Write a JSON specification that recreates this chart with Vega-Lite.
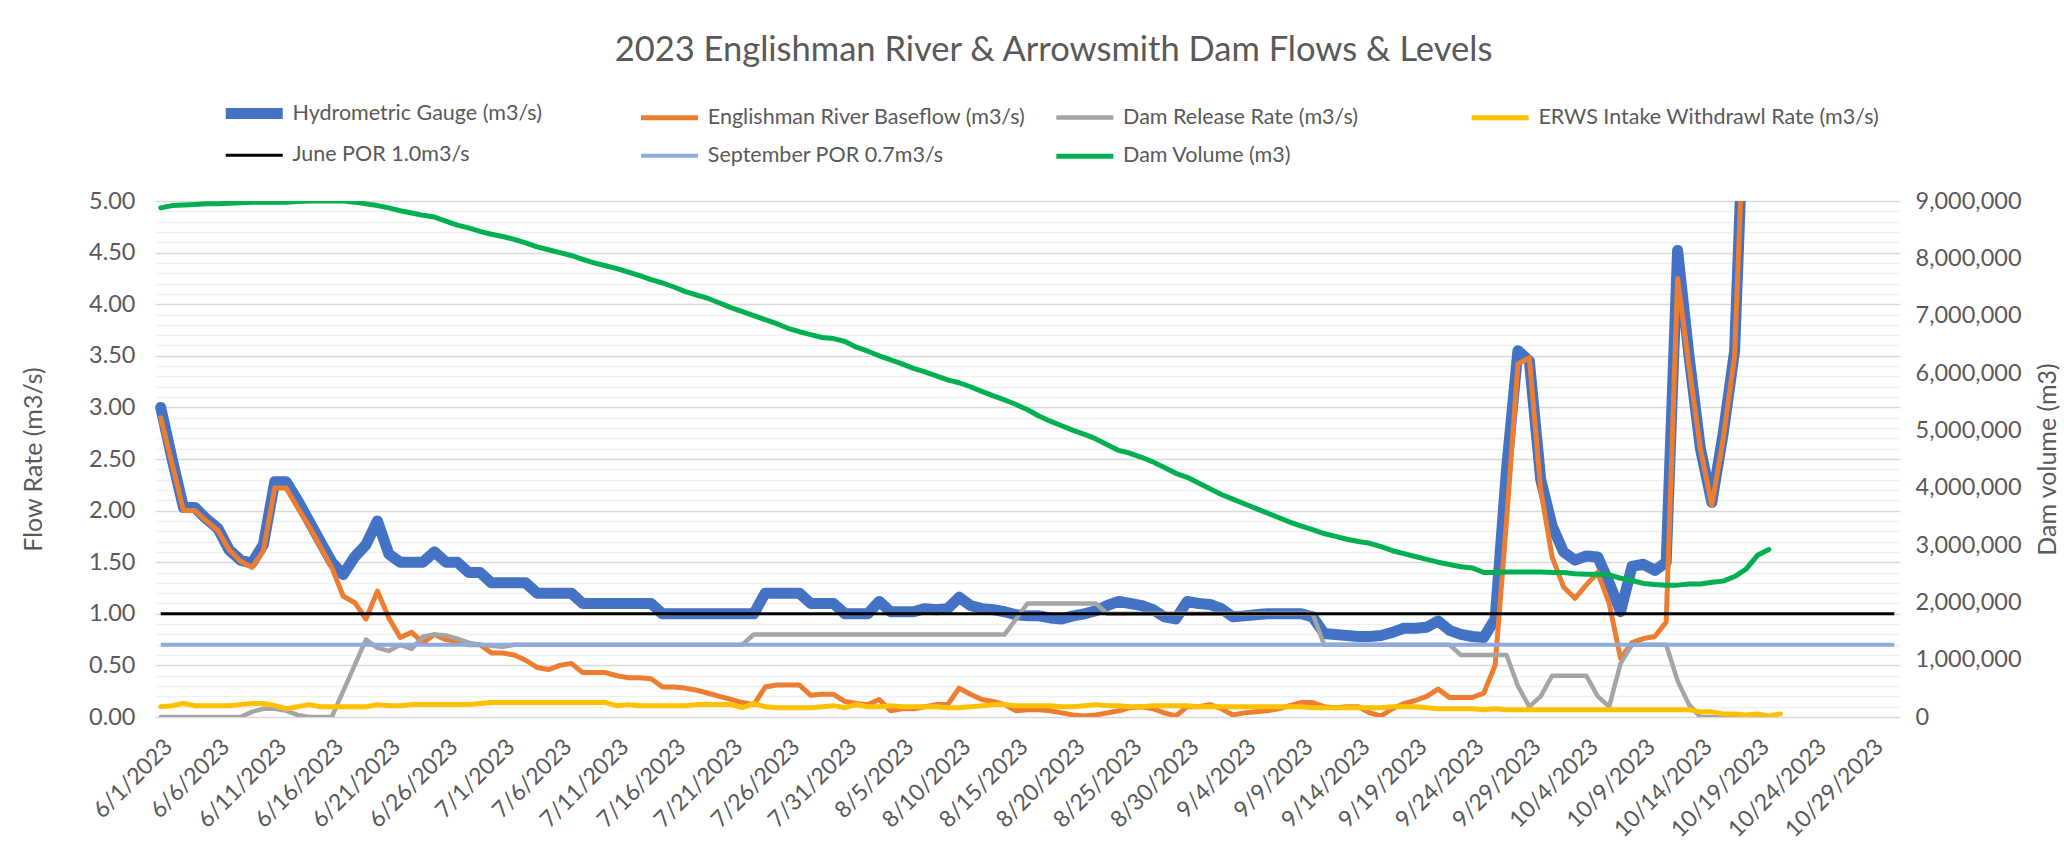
{
"$schema": "https://vega.github.io/schema/vega-lite/v6.json",
"width": 1745, "height": 516,
"autosize": "none",
"padding": {"left": 155, "top": 201, "right": 164, "bottom": 136},
"background": "#ffffff",
"config": {"font": "Lato", "view": {"stroke": null}},
"title": {"text": "2023 Englishman River & Arrowsmith Dam Flows & Levels", "font": "Lato", "fontSize": 34.5, "fontWeight": "normal", "color": "#595959", "anchor": "middle", "dx": 26, "offset": 25},
"data": {"values": [
{"d":"2023-06-01","s":"H","v":3.0},{"d":"2023-06-02","s":"H","v":2.5},{"d":"2023-06-03","s":"H","v":2.03},{"d":"2023-06-04","s":"H","v":2.03},{"d":"2023-06-05","s":"H","v":1.92},{"d":"2023-06-06","s":"H","v":1.83},{"d":"2023-06-07","s":"H","v":1.62},{"d":"2023-06-08","s":"H","v":1.52},{"d":"2023-06-09","s":"H","v":1.49},{"d":"2023-06-10","s":"H","v":1.67},{"d":"2023-06-11","s":"H","v":2.28},{"d":"2023-06-12","s":"H","v":2.28},{"d":"2023-06-13","s":"H","v":2.1},{"d":"2023-06-14","s":"H","v":1.9},{"d":"2023-06-15","s":"H","v":1.7},{"d":"2023-06-16","s":"H","v":1.5},{"d":"2023-06-17","s":"H","v":1.38},{"d":"2023-06-18","s":"H","v":1.55},{"d":"2023-06-19","s":"H","v":1.67},{"d":"2023-06-20","s":"H","v":1.9},{"d":"2023-06-21","s":"H","v":1.58},{"d":"2023-06-22","s":"H","v":1.5},{"d":"2023-06-23","s":"H","v":1.5},{"d":"2023-06-24","s":"H","v":1.5},{"d":"2023-06-25","s":"H","v":1.6},{"d":"2023-06-26","s":"H","v":1.5},{"d":"2023-06-27","s":"H","v":1.5},{"d":"2023-06-28","s":"H","v":1.4},{"d":"2023-06-29","s":"H","v":1.4},{"d":"2023-06-30","s":"H","v":1.3},
{"d":"2023-07-01","s":"H","v":1.3},{"d":"2023-07-02","s":"H","v":1.3},{"d":"2023-07-03","s":"H","v":1.3},{"d":"2023-07-04","s":"H","v":1.2},{"d":"2023-07-05","s":"H","v":1.2},{"d":"2023-07-06","s":"H","v":1.2},{"d":"2023-07-07","s":"H","v":1.2},{"d":"2023-07-08","s":"H","v":1.1},{"d":"2023-07-09","s":"H","v":1.1},{"d":"2023-07-10","s":"H","v":1.1},{"d":"2023-07-11","s":"H","v":1.1},{"d":"2023-07-12","s":"H","v":1.1},{"d":"2023-07-13","s":"H","v":1.1},{"d":"2023-07-14","s":"H","v":1.1},{"d":"2023-07-15","s":"H","v":1.0},{"d":"2023-07-16","s":"H","v":1.0},{"d":"2023-07-17","s":"H","v":1.0},{"d":"2023-07-18","s":"H","v":1.0},{"d":"2023-07-19","s":"H","v":1.0},{"d":"2023-07-20","s":"H","v":1.0},{"d":"2023-07-21","s":"H","v":1.0},{"d":"2023-07-22","s":"H","v":1.0},{"d":"2023-07-23","s":"H","v":1.0},{"d":"2023-07-24","s":"H","v":1.2},{"d":"2023-07-25","s":"H","v":1.2},{"d":"2023-07-26","s":"H","v":1.2},{"d":"2023-07-27","s":"H","v":1.2},{"d":"2023-07-28","s":"H","v":1.1},{"d":"2023-07-29","s":"H","v":1.1},{"d":"2023-07-30","s":"H","v":1.1},{"d":"2023-07-31","s":"H","v":1.0},
{"d":"2023-08-01","s":"H","v":1.0},{"d":"2023-08-02","s":"H","v":1.0},{"d":"2023-08-03","s":"H","v":1.12},{"d":"2023-08-04","s":"H","v":1.02},{"d":"2023-08-05","s":"H","v":1.02},{"d":"2023-08-06","s":"H","v":1.02},{"d":"2023-08-07","s":"H","v":1.05},{"d":"2023-08-08","s":"H","v":1.04},{"d":"2023-08-09","s":"H","v":1.05},{"d":"2023-08-10","s":"H","v":1.16},{"d":"2023-08-11","s":"H","v":1.08},{"d":"2023-08-12","s":"H","v":1.05},{"d":"2023-08-13","s":"H","v":1.04},{"d":"2023-08-14","s":"H","v":1.02},{"d":"2023-08-15","s":"H","v":0.99},{"d":"2023-08-16","s":"H","v":0.98},{"d":"2023-08-17","s":"H","v":0.98},{"d":"2023-08-18","s":"H","v":0.96},{"d":"2023-08-19","s":"H","v":0.95},{"d":"2023-08-20","s":"H","v":0.98},{"d":"2023-08-21","s":"H","v":1.0},{"d":"2023-08-22","s":"H","v":1.03},{"d":"2023-08-23","s":"H","v":1.08},{"d":"2023-08-24","s":"H","v":1.12},{"d":"2023-08-25","s":"H","v":1.1},{"d":"2023-08-26","s":"H","v":1.08},{"d":"2023-08-27","s":"H","v":1.04},{"d":"2023-08-28","s":"H","v":0.97},{"d":"2023-08-29","s":"H","v":0.95},{"d":"2023-08-30","s":"H","v":1.12},{"d":"2023-08-31","s":"H","v":1.1},
{"d":"2023-09-01","s":"H","v":1.09},{"d":"2023-09-02","s":"H","v":1.05},{"d":"2023-09-03","s":"H","v":0.97},{"d":"2023-09-04","s":"H","v":0.98},{"d":"2023-09-05","s":"H","v":0.99},{"d":"2023-09-06","s":"H","v":1.0},{"d":"2023-09-07","s":"H","v":1.0},{"d":"2023-09-08","s":"H","v":1.0},{"d":"2023-09-09","s":"H","v":1.0},{"d":"2023-09-10","s":"H","v":0.97},{"d":"2023-09-11","s":"H","v":0.81},{"d":"2023-09-12","s":"H","v":0.8},{"d":"2023-09-13","s":"H","v":0.79},{"d":"2023-09-14","s":"H","v":0.78},{"d":"2023-09-15","s":"H","v":0.78},{"d":"2023-09-16","s":"H","v":0.79},{"d":"2023-09-17","s":"H","v":0.82},{"d":"2023-09-18","s":"H","v":0.86},{"d":"2023-09-19","s":"H","v":0.86},{"d":"2023-09-20","s":"H","v":0.87},{"d":"2023-09-21","s":"H","v":0.93},{"d":"2023-09-22","s":"H","v":0.84},{"d":"2023-09-23","s":"H","v":0.8},{"d":"2023-09-24","s":"H","v":0.78},{"d":"2023-09-25","s":"H","v":0.77},{"d":"2023-09-26","s":"H","v":0.95},{"d":"2023-09-27","s":"H","v":2.4},{"d":"2023-09-28","s":"H","v":3.55},{"d":"2023-09-29","s":"H","v":3.45},{"d":"2023-09-30","s":"H","v":2.3},
{"d":"2023-10-01","s":"H","v":1.85},{"d":"2023-10-02","s":"H","v":1.6},{"d":"2023-10-03","s":"H","v":1.52},{"d":"2023-10-04","s":"H","v":1.56},{"d":"2023-10-05","s":"H","v":1.55},{"d":"2023-10-06","s":"H","v":1.3},{"d":"2023-10-07","s":"H","v":1.02},{"d":"2023-10-08","s":"H","v":1.46},{"d":"2023-10-09","s":"H","v":1.48},{"d":"2023-10-10","s":"H","v":1.42},{"d":"2023-10-11","s":"H","v":1.5},{"d":"2023-10-12","s":"H","v":4.52},{"d":"2023-10-13","s":"H","v":3.5},{"d":"2023-10-14","s":"H","v":2.6},{"d":"2023-10-15","s":"H","v":2.08},{"d":"2023-10-16","s":"H","v":2.75},{"d":"2023-10-17","s":"H","v":3.55},{"d":"2023-10-18","s":"H","v":6.5},
{"d":"2023-06-01","s":"B","v":2.9},{"d":"2023-06-02","s":"B","v":2.45},{"d":"2023-06-03","s":"B","v":2.0},{"d":"2023-06-04","s":"B","v":2.0},{"d":"2023-06-05","s":"B","v":1.9},{"d":"2023-06-06","s":"B","v":1.81},{"d":"2023-06-07","s":"B","v":1.62},{"d":"2023-06-08","s":"B","v":1.51},{"d":"2023-06-09","s":"B","v":1.45},{"d":"2023-06-10","s":"B","v":1.61},{"d":"2023-06-11","s":"B","v":2.22},{"d":"2023-06-12","s":"B","v":2.22},{"d":"2023-06-13","s":"B","v":2.03},{"d":"2023-06-14","s":"B","v":1.85},{"d":"2023-06-15","s":"B","v":1.65},{"d":"2023-06-16","s":"B","v":1.45},{"d":"2023-06-17","s":"B","v":1.17},{"d":"2023-06-18","s":"B","v":1.11},{"d":"2023-06-19","s":"B","v":0.95},{"d":"2023-06-20","s":"B","v":1.22},{"d":"2023-06-21","s":"B","v":0.96},{"d":"2023-06-22","s":"B","v":0.77},{"d":"2023-06-23","s":"B","v":0.82},{"d":"2023-06-24","s":"B","v":0.72},{"d":"2023-06-25","s":"B","v":0.8},{"d":"2023-06-26","s":"B","v":0.75},{"d":"2023-06-27","s":"B","v":0.73},{"d":"2023-06-28","s":"B","v":0.7},{"d":"2023-06-29","s":"B","v":0.7},{"d":"2023-06-30","s":"B","v":0.62},
{"d":"2023-07-01","s":"B","v":0.62},{"d":"2023-07-02","s":"B","v":0.6},{"d":"2023-07-03","s":"B","v":0.55},{"d":"2023-07-04","s":"B","v":0.48},{"d":"2023-07-05","s":"B","v":0.46},{"d":"2023-07-06","s":"B","v":0.5},{"d":"2023-07-07","s":"B","v":0.52},{"d":"2023-07-08","s":"B","v":0.43},{"d":"2023-07-09","s":"B","v":0.43},{"d":"2023-07-10","s":"B","v":0.43},{"d":"2023-07-11","s":"B","v":0.4},{"d":"2023-07-12","s":"B","v":0.38},{"d":"2023-07-13","s":"B","v":0.38},{"d":"2023-07-14","s":"B","v":0.37},{"d":"2023-07-15","s":"B","v":0.29},{"d":"2023-07-16","s":"B","v":0.29},{"d":"2023-07-17","s":"B","v":0.28},{"d":"2023-07-18","s":"B","v":0.26},{"d":"2023-07-19","s":"B","v":0.23},{"d":"2023-07-20","s":"B","v":0.2},{"d":"2023-07-21","s":"B","v":0.17},{"d":"2023-07-22","s":"B","v":0.14},{"d":"2023-07-23","s":"B","v":0.12},{"d":"2023-07-24","s":"B","v":0.29},{"d":"2023-07-25","s":"B","v":0.31},{"d":"2023-07-26","s":"B","v":0.31},{"d":"2023-07-27","s":"B","v":0.31},{"d":"2023-07-28","s":"B","v":0.21},{"d":"2023-07-29","s":"B","v":0.22},{"d":"2023-07-30","s":"B","v":0.22},{"d":"2023-07-31","s":"B","v":0.15},
{"d":"2023-08-01","s":"B","v":0.13},{"d":"2023-08-02","s":"B","v":0.12},{"d":"2023-08-03","s":"B","v":0.17},{"d":"2023-08-04","s":"B","v":0.06},{"d":"2023-08-05","s":"B","v":0.08},{"d":"2023-08-06","s":"B","v":0.08},{"d":"2023-08-07","s":"B","v":0.1},{"d":"2023-08-08","s":"B","v":0.12},{"d":"2023-08-09","s":"B","v":0.12},{"d":"2023-08-10","s":"B","v":0.28},{"d":"2023-08-11","s":"B","v":0.22},{"d":"2023-08-12","s":"B","v":0.17},{"d":"2023-08-13","s":"B","v":0.15},{"d":"2023-08-14","s":"B","v":0.12},{"d":"2023-08-15","s":"B","v":0.06},{"d":"2023-08-16","s":"B","v":0.07},{"d":"2023-08-17","s":"B","v":0.07},{"d":"2023-08-18","s":"B","v":0.06},{"d":"2023-08-19","s":"B","v":0.04},{"d":"2023-08-20","s":"B","v":0.02},{"d":"2023-08-21","s":"B","v":0.01},{"d":"2023-08-22","s":"B","v":0.02},{"d":"2023-08-23","s":"B","v":0.04},{"d":"2023-08-24","s":"B","v":0.06},{"d":"2023-08-25","s":"B","v":0.09},{"d":"2023-08-26","s":"B","v":0.1},{"d":"2023-08-27","s":"B","v":0.08},{"d":"2023-08-28","s":"B","v":0.04},{"d":"2023-08-29","s":"B","v":0.01},{"d":"2023-08-30","s":"B","v":0.1},{"d":"2023-08-31","s":"B","v":0.1},
{"d":"2023-09-01","s":"B","v":0.12},{"d":"2023-09-02","s":"B","v":0.08},{"d":"2023-09-03","s":"B","v":0.02},{"d":"2023-09-04","s":"B","v":0.04},{"d":"2023-09-05","s":"B","v":0.05},{"d":"2023-09-06","s":"B","v":0.06},{"d":"2023-09-07","s":"B","v":0.08},{"d":"2023-09-08","s":"B","v":0.11},{"d":"2023-09-09","s":"B","v":0.14},{"d":"2023-09-10","s":"B","v":0.14},{"d":"2023-09-11","s":"B","v":0.1},{"d":"2023-09-12","s":"B","v":0.09},{"d":"2023-09-13","s":"B","v":0.1},{"d":"2023-09-14","s":"B","v":0.1},{"d":"2023-09-15","s":"B","v":0.04},{"d":"2023-09-16","s":"B","v":0.01},{"d":"2023-09-17","s":"B","v":0.08},{"d":"2023-09-18","s":"B","v":0.13},{"d":"2023-09-19","s":"B","v":0.16},{"d":"2023-09-20","s":"B","v":0.2},{"d":"2023-09-21","s":"B","v":0.27},{"d":"2023-09-22","s":"B","v":0.19},{"d":"2023-09-23","s":"B","v":0.19},{"d":"2023-09-24","s":"B","v":0.19},{"d":"2023-09-25","s":"B","v":0.23},{"d":"2023-09-26","s":"B","v":0.5},{"d":"2023-09-27","s":"B","v":1.9},{"d":"2023-09-28","s":"B","v":3.42},{"d":"2023-09-29","s":"B","v":3.48},{"d":"2023-09-30","s":"B","v":2.2},
{"d":"2023-10-01","s":"B","v":1.55},{"d":"2023-10-02","s":"B","v":1.26},{"d":"2023-10-03","s":"B","v":1.15},{"d":"2023-10-04","s":"B","v":1.28},{"d":"2023-10-05","s":"B","v":1.4},{"d":"2023-10-06","s":"B","v":1.1},{"d":"2023-10-07","s":"B","v":0.57},{"d":"2023-10-08","s":"B","v":0.72},{"d":"2023-10-09","s":"B","v":0.76},{"d":"2023-10-10","s":"B","v":0.78},{"d":"2023-10-11","s":"B","v":0.92},{"d":"2023-10-12","s":"B","v":4.25},{"d":"2023-10-13","s":"B","v":3.4},{"d":"2023-10-14","s":"B","v":2.6},{"d":"2023-10-15","s":"B","v":2.05},{"d":"2023-10-16","s":"B","v":2.7},{"d":"2023-10-17","s":"B","v":3.5},{"d":"2023-10-18","s":"B","v":6.4},
{"d":"2023-06-01","s":"R","v":0},{"d":"2023-06-02","s":"R","v":0},{"d":"2023-06-03","s":"R","v":0},{"d":"2023-06-04","s":"R","v":0},{"d":"2023-06-05","s":"R","v":0},{"d":"2023-06-06","s":"R","v":0},{"d":"2023-06-07","s":"R","v":0},{"d":"2023-06-08","s":"R","v":0},{"d":"2023-06-09","s":"R","v":0.05},{"d":"2023-06-10","s":"R","v":0.08},{"d":"2023-06-11","s":"R","v":0.08},{"d":"2023-06-12","s":"R","v":0.06},{"d":"2023-06-13","s":"R","v":0.02},{"d":"2023-06-14","s":"R","v":0},{"d":"2023-06-15","s":"R","v":0},{"d":"2023-06-16","s":"R","v":0},{"d":"2023-06-17","s":"R","v":0.25},{"d":"2023-06-18","s":"R","v":0.5},{"d":"2023-06-19","s":"R","v":0.75},{"d":"2023-06-20","s":"R","v":0.67},{"d":"2023-06-21","s":"R","v":0.64},{"d":"2023-06-22","s":"R","v":0.7},{"d":"2023-06-23","s":"R","v":0.66},{"d":"2023-06-24","s":"R","v":0.78},{"d":"2023-06-25","s":"R","v":0.8},{"d":"2023-06-26","s":"R","v":0.79},{"d":"2023-06-27","s":"R","v":0.76},{"d":"2023-06-28","s":"R","v":0.72},{"d":"2023-06-29","s":"R","v":0.7},{"d":"2023-06-30","s":"R","v":0.69},
{"d":"2023-07-01","s":"R","v":0.68},{"d":"2023-07-02","s":"R","v":0.7},{"d":"2023-07-03","s":"R","v":0.7},{"d":"2023-07-04","s":"R","v":0.7},{"d":"2023-07-05","s":"R","v":0.7},{"d":"2023-07-06","s":"R","v":0.7},{"d":"2023-07-07","s":"R","v":0.7},{"d":"2023-07-08","s":"R","v":0.7},{"d":"2023-07-09","s":"R","v":0.7},{"d":"2023-07-10","s":"R","v":0.7},{"d":"2023-07-11","s":"R","v":0.7},{"d":"2023-07-12","s":"R","v":0.7},{"d":"2023-07-13","s":"R","v":0.7},{"d":"2023-07-14","s":"R","v":0.7},{"d":"2023-07-15","s":"R","v":0.7},{"d":"2023-07-16","s":"R","v":0.7},{"d":"2023-07-17","s":"R","v":0.7},{"d":"2023-07-18","s":"R","v":0.7},{"d":"2023-07-19","s":"R","v":0.7},{"d":"2023-07-20","s":"R","v":0.7},{"d":"2023-07-21","s":"R","v":0.7},{"d":"2023-07-22","s":"R","v":0.7},{"d":"2023-07-23","s":"R","v":0.8},{"d":"2023-07-24","s":"R","v":0.8},{"d":"2023-07-25","s":"R","v":0.8},{"d":"2023-07-26","s":"R","v":0.8},{"d":"2023-07-27","s":"R","v":0.8},{"d":"2023-07-28","s":"R","v":0.8},{"d":"2023-07-29","s":"R","v":0.8},{"d":"2023-07-30","s":"R","v":0.8},{"d":"2023-07-31","s":"R","v":0.8},
{"d":"2023-08-01","s":"R","v":0.8},{"d":"2023-08-02","s":"R","v":0.8},{"d":"2023-08-03","s":"R","v":0.8},{"d":"2023-08-04","s":"R","v":0.8},{"d":"2023-08-05","s":"R","v":0.8},{"d":"2023-08-06","s":"R","v":0.8},{"d":"2023-08-07","s":"R","v":0.8},{"d":"2023-08-08","s":"R","v":0.8},{"d":"2023-08-09","s":"R","v":0.8},{"d":"2023-08-10","s":"R","v":0.8},{"d":"2023-08-11","s":"R","v":0.8},{"d":"2023-08-12","s":"R","v":0.8},{"d":"2023-08-13","s":"R","v":0.8},{"d":"2023-08-14","s":"R","v":0.8},{"d":"2023-08-15","s":"R","v":0.95},{"d":"2023-08-16","s":"R","v":1.1},{"d":"2023-08-17","s":"R","v":1.1},{"d":"2023-08-18","s":"R","v":1.1},{"d":"2023-08-19","s":"R","v":1.1},{"d":"2023-08-20","s":"R","v":1.1},{"d":"2023-08-21","s":"R","v":1.1},{"d":"2023-08-22","s":"R","v":1.1},{"d":"2023-08-23","s":"R","v":1.0},{"d":"2023-08-24","s":"R","v":1.0},{"d":"2023-08-25","s":"R","v":1.0},{"d":"2023-08-26","s":"R","v":1.0},{"d":"2023-08-27","s":"R","v":1.0},{"d":"2023-08-28","s":"R","v":1.0},{"d":"2023-08-29","s":"R","v":1.0},{"d":"2023-08-30","s":"R","v":1.0},{"d":"2023-08-31","s":"R","v":1.0},
{"d":"2023-09-01","s":"R","v":1.0},{"d":"2023-09-02","s":"R","v":1.0},{"d":"2023-09-03","s":"R","v":1.0},{"d":"2023-09-04","s":"R","v":1.0},{"d":"2023-09-05","s":"R","v":1.0},{"d":"2023-09-06","s":"R","v":1.0},{"d":"2023-09-07","s":"R","v":1.0},{"d":"2023-09-08","s":"R","v":1.0},{"d":"2023-09-09","s":"R","v":1.0},{"d":"2023-09-10","s":"R","v":1.0},{"d":"2023-09-11","s":"R","v":0.7},{"d":"2023-09-12","s":"R","v":0.7},{"d":"2023-09-13","s":"R","v":0.7},{"d":"2023-09-14","s":"R","v":0.7},{"d":"2023-09-15","s":"R","v":0.7},{"d":"2023-09-16","s":"R","v":0.7},{"d":"2023-09-17","s":"R","v":0.7},{"d":"2023-09-18","s":"R","v":0.7},{"d":"2023-09-19","s":"R","v":0.7},{"d":"2023-09-20","s":"R","v":0.7},{"d":"2023-09-21","s":"R","v":0.7},{"d":"2023-09-22","s":"R","v":0.7},{"d":"2023-09-23","s":"R","v":0.6},{"d":"2023-09-24","s":"R","v":0.6},{"d":"2023-09-25","s":"R","v":0.6},{"d":"2023-09-26","s":"R","v":0.6},{"d":"2023-09-27","s":"R","v":0.6},{"d":"2023-09-28","s":"R","v":0.3},{"d":"2023-09-29","s":"R","v":0.1},{"d":"2023-09-30","s":"R","v":0.2},
{"d":"2023-10-01","s":"R","v":0.4},{"d":"2023-10-02","s":"R","v":0.4},{"d":"2023-10-03","s":"R","v":0.4},{"d":"2023-10-04","s":"R","v":0.4},{"d":"2023-10-05","s":"R","v":0.2},{"d":"2023-10-06","s":"R","v":0.1},{"d":"2023-10-07","s":"R","v":0.52},{"d":"2023-10-08","s":"R","v":0.7},{"d":"2023-10-09","s":"R","v":0.7},{"d":"2023-10-10","s":"R","v":0.7},{"d":"2023-10-11","s":"R","v":0.7},{"d":"2023-10-12","s":"R","v":0.35},{"d":"2023-10-13","s":"R","v":0.12},{"d":"2023-10-14","s":"R","v":0},{"d":"2023-10-15","s":"R","v":0},{"d":"2023-10-16","s":"R","v":0},{"d":"2023-10-17","s":"R","v":0},{"d":"2023-10-18","s":"R","v":0},{"d":"2023-10-19","s":"R","v":0},{"d":"2023-10-20","s":"R","v":0},
{"d":"2023-06-01","s":"W","v":0.1},{"d":"2023-06-02","s":"W","v":0.11},{"d":"2023-06-03","s":"W","v":0.13},{"d":"2023-06-04","s":"W","v":0.11},{"d":"2023-06-05","s":"W","v":0.11},{"d":"2023-06-06","s":"W","v":0.11},{"d":"2023-06-07","s":"W","v":0.11},{"d":"2023-06-08","s":"W","v":0.12},{"d":"2023-06-09","s":"W","v":0.13},{"d":"2023-06-10","s":"W","v":0.13},{"d":"2023-06-11","s":"W","v":0.11},{"d":"2023-06-12","s":"W","v":0.08},{"d":"2023-06-13","s":"W","v":0.1},{"d":"2023-06-14","s":"W","v":0.12},{"d":"2023-06-15","s":"W","v":0.1},{"d":"2023-06-16","s":"W","v":0.1},{"d":"2023-06-17","s":"W","v":0.1},{"d":"2023-06-18","s":"W","v":0.1},{"d":"2023-06-19","s":"W","v":0.1},{"d":"2023-06-20","s":"W","v":0.12},{"d":"2023-06-21","s":"W","v":0.11},{"d":"2023-06-22","s":"W","v":0.11},{"d":"2023-06-23","s":"W","v":0.12},{"d":"2023-06-24","s":"W","v":0.12},{"d":"2023-06-25","s":"W","v":0.12},{"d":"2023-06-26","s":"W","v":0.12},{"d":"2023-06-27","s":"W","v":0.12},{"d":"2023-06-28","s":"W","v":0.12},{"d":"2023-06-29","s":"W","v":0.13},{"d":"2023-06-30","s":"W","v":0.14},
{"d":"2023-07-01","s":"W","v":0.14},{"d":"2023-07-02","s":"W","v":0.14},{"d":"2023-07-03","s":"W","v":0.14},{"d":"2023-07-04","s":"W","v":0.14},{"d":"2023-07-05","s":"W","v":0.14},{"d":"2023-07-06","s":"W","v":0.14},{"d":"2023-07-07","s":"W","v":0.14},{"d":"2023-07-08","s":"W","v":0.14},{"d":"2023-07-09","s":"W","v":0.14},{"d":"2023-07-10","s":"W","v":0.14},{"d":"2023-07-11","s":"W","v":0.11},{"d":"2023-07-12","s":"W","v":0.12},{"d":"2023-07-13","s":"W","v":0.11},{"d":"2023-07-14","s":"W","v":0.11},{"d":"2023-07-15","s":"W","v":0.11},{"d":"2023-07-16","s":"W","v":0.11},{"d":"2023-07-17","s":"W","v":0.11},{"d":"2023-07-18","s":"W","v":0.12},{"d":"2023-07-19","s":"W","v":0.12},{"d":"2023-07-20","s":"W","v":0.12},{"d":"2023-07-21","s":"W","v":0.12},{"d":"2023-07-22","s":"W","v":0.09},{"d":"2023-07-23","s":"W","v":0.13},{"d":"2023-07-24","s":"W","v":0.1},{"d":"2023-07-25","s":"W","v":0.09},{"d":"2023-07-26","s":"W","v":0.09},{"d":"2023-07-27","s":"W","v":0.09},{"d":"2023-07-28","s":"W","v":0.09},{"d":"2023-07-29","s":"W","v":0.1},{"d":"2023-07-30","s":"W","v":0.11},{"d":"2023-07-31","s":"W","v":0.09},
{"d":"2023-08-01","s":"W","v":0.12},{"d":"2023-08-02","s":"W","v":0.1},{"d":"2023-08-03","s":"W","v":0.1},{"d":"2023-08-04","s":"W","v":0.11},{"d":"2023-08-05","s":"W","v":0.1},{"d":"2023-08-06","s":"W","v":0.1},{"d":"2023-08-07","s":"W","v":0.1},{"d":"2023-08-08","s":"W","v":0.1},{"d":"2023-08-09","s":"W","v":0.09},{"d":"2023-08-10","s":"W","v":0.09},{"d":"2023-08-11","s":"W","v":0.1},{"d":"2023-08-12","s":"W","v":0.11},{"d":"2023-08-13","s":"W","v":0.12},{"d":"2023-08-14","s":"W","v":0.12},{"d":"2023-08-15","s":"W","v":0.11},{"d":"2023-08-16","s":"W","v":0.11},{"d":"2023-08-17","s":"W","v":0.11},{"d":"2023-08-18","s":"W","v":0.11},{"d":"2023-08-19","s":"W","v":0.1},{"d":"2023-08-20","s":"W","v":0.1},{"d":"2023-08-21","s":"W","v":0.11},{"d":"2023-08-22","s":"W","v":0.12},{"d":"2023-08-23","s":"W","v":0.11},{"d":"2023-08-24","s":"W","v":0.11},{"d":"2023-08-25","s":"W","v":0.1},{"d":"2023-08-26","s":"W","v":0.1},{"d":"2023-08-27","s":"W","v":0.11},{"d":"2023-08-28","s":"W","v":0.11},{"d":"2023-08-29","s":"W","v":0.11},{"d":"2023-08-30","s":"W","v":0.11},{"d":"2023-08-31","s":"W","v":0.1},
{"d":"2023-09-01","s":"W","v":0.1},{"d":"2023-09-02","s":"W","v":0.1},{"d":"2023-09-03","s":"W","v":0.1},{"d":"2023-09-04","s":"W","v":0.1},{"d":"2023-09-05","s":"W","v":0.1},{"d":"2023-09-06","s":"W","v":0.1},{"d":"2023-09-07","s":"W","v":0.1},{"d":"2023-09-08","s":"W","v":0.1},{"d":"2023-09-09","s":"W","v":0.1},{"d":"2023-09-10","s":"W","v":0.09},{"d":"2023-09-11","s":"W","v":0.09},{"d":"2023-09-12","s":"W","v":0.09},{"d":"2023-09-13","s":"W","v":0.09},{"d":"2023-09-14","s":"W","v":0.09},{"d":"2023-09-15","s":"W","v":0.09},{"d":"2023-09-16","s":"W","v":0.09},{"d":"2023-09-17","s":"W","v":0.1},{"d":"2023-09-18","s":"W","v":0.1},{"d":"2023-09-19","s":"W","v":0.1},{"d":"2023-09-20","s":"W","v":0.09},{"d":"2023-09-21","s":"W","v":0.08},{"d":"2023-09-22","s":"W","v":0.08},{"d":"2023-09-23","s":"W","v":0.08},{"d":"2023-09-24","s":"W","v":0.08},{"d":"2023-09-25","s":"W","v":0.07},{"d":"2023-09-26","s":"W","v":0.08},{"d":"2023-09-27","s":"W","v":0.07},{"d":"2023-09-28","s":"W","v":0.07},{"d":"2023-09-29","s":"W","v":0.07},{"d":"2023-09-30","s":"W","v":0.07},
{"d":"2023-10-01","s":"W","v":0.07},{"d":"2023-10-02","s":"W","v":0.07},{"d":"2023-10-03","s":"W","v":0.07},{"d":"2023-10-04","s":"W","v":0.07},{"d":"2023-10-05","s":"W","v":0.07},{"d":"2023-10-06","s":"W","v":0.07},{"d":"2023-10-07","s":"W","v":0.07},{"d":"2023-10-08","s":"W","v":0.07},{"d":"2023-10-09","s":"W","v":0.07},{"d":"2023-10-10","s":"W","v":0.07},{"d":"2023-10-11","s":"W","v":0.07},{"d":"2023-10-12","s":"W","v":0.07},{"d":"2023-10-13","s":"W","v":0.07},{"d":"2023-10-14","s":"W","v":0.05},{"d":"2023-10-15","s":"W","v":0.05},{"d":"2023-10-16","s":"W","v":0.03},{"d":"2023-10-17","s":"W","v":0.03},{"d":"2023-10-18","s":"W","v":0.02},{"d":"2023-10-19","s":"W","v":0.03},{"d":"2023-10-20","s":"W","v":0.01},{"d":"2023-10-21","s":"W","v":0.03},
{"d":"2023-06-01","s":"J","v":1.0},{"d":"2023-10-31","s":"J","v":1.0},
{"d":"2023-06-01","s":"S","v":0.7},{"d":"2023-10-31","s":"S","v":0.7},
{"d":"2023-06-01","s":"V","v":8880000},{"d":"2023-06-02","s":"V","v":8920000},{"d":"2023-06-03","s":"V","v":8930000},{"d":"2023-06-04","s":"V","v":8940000},{"d":"2023-06-05","s":"V","v":8950000},{"d":"2023-06-06","s":"V","v":8950000},{"d":"2023-06-07","s":"V","v":8960000},{"d":"2023-06-08","s":"V","v":8970000},{"d":"2023-06-09","s":"V","v":8980000},{"d":"2023-06-10","s":"V","v":8980000},{"d":"2023-06-11","s":"V","v":8980000},{"d":"2023-06-12","s":"V","v":8980000},{"d":"2023-06-13","s":"V","v":8990000},{"d":"2023-06-14","s":"V","v":9000000},{"d":"2023-06-15","s":"V","v":9000000},{"d":"2023-06-16","s":"V","v":9000000},{"d":"2023-06-17","s":"V","v":9000000},{"d":"2023-06-18","s":"V","v":8980000},{"d":"2023-06-19","s":"V","v":8950000},{"d":"2023-06-20","s":"V","v":8920000},{"d":"2023-06-21","s":"V","v":8880000},{"d":"2023-06-22","s":"V","v":8830000},{"d":"2023-06-23","s":"V","v":8790000},{"d":"2023-06-24","s":"V","v":8750000},{"d":"2023-06-25","s":"V","v":8720000},{"d":"2023-06-26","s":"V","v":8650000},{"d":"2023-06-27","s":"V","v":8580000},{"d":"2023-06-28","s":"V","v":8530000},{"d":"2023-06-29","s":"V","v":8470000},{"d":"2023-06-30","s":"V","v":8420000},
{"d":"2023-07-01","s":"V","v":8380000},{"d":"2023-07-02","s":"V","v":8330000},{"d":"2023-07-03","s":"V","v":8270000},{"d":"2023-07-04","s":"V","v":8200000},{"d":"2023-07-05","s":"V","v":8150000},{"d":"2023-07-06","s":"V","v":8100000},{"d":"2023-07-07","s":"V","v":8050000},{"d":"2023-07-08","s":"V","v":7980000},{"d":"2023-07-09","s":"V","v":7920000},{"d":"2023-07-10","s":"V","v":7870000},{"d":"2023-07-11","s":"V","v":7820000},{"d":"2023-07-12","s":"V","v":7760000},{"d":"2023-07-13","s":"V","v":7700000},{"d":"2023-07-14","s":"V","v":7630000},{"d":"2023-07-15","s":"V","v":7570000},{"d":"2023-07-16","s":"V","v":7500000},{"d":"2023-07-17","s":"V","v":7420000},{"d":"2023-07-18","s":"V","v":7360000},{"d":"2023-07-19","s":"V","v":7300000},{"d":"2023-07-20","s":"V","v":7220000},{"d":"2023-07-21","s":"V","v":7140000},{"d":"2023-07-22","s":"V","v":7070000},{"d":"2023-07-23","s":"V","v":7000000},{"d":"2023-07-24","s":"V","v":6930000},{"d":"2023-07-25","s":"V","v":6860000},{"d":"2023-07-26","s":"V","v":6780000},{"d":"2023-07-27","s":"V","v":6720000},{"d":"2023-07-28","s":"V","v":6670000},{"d":"2023-07-29","s":"V","v":6620000},{"d":"2023-07-30","s":"V","v":6600000},{"d":"2023-07-31","s":"V","v":6550000},
{"d":"2023-08-01","s":"V","v":6450000},{"d":"2023-08-02","s":"V","v":6380000},{"d":"2023-08-03","s":"V","v":6300000},{"d":"2023-08-04","s":"V","v":6230000},{"d":"2023-08-05","s":"V","v":6160000},{"d":"2023-08-06","s":"V","v":6080000},{"d":"2023-08-07","s":"V","v":6020000},{"d":"2023-08-08","s":"V","v":5950000},{"d":"2023-08-09","s":"V","v":5880000},{"d":"2023-08-10","s":"V","v":5830000},{"d":"2023-08-11","s":"V","v":5760000},{"d":"2023-08-12","s":"V","v":5680000},{"d":"2023-08-13","s":"V","v":5600000},{"d":"2023-08-14","s":"V","v":5530000},{"d":"2023-08-15","s":"V","v":5450000},{"d":"2023-08-16","s":"V","v":5360000},{"d":"2023-08-17","s":"V","v":5250000},{"d":"2023-08-18","s":"V","v":5160000},{"d":"2023-08-19","s":"V","v":5080000},{"d":"2023-08-20","s":"V","v":5000000},{"d":"2023-08-21","s":"V","v":4930000},{"d":"2023-08-22","s":"V","v":4850000},{"d":"2023-08-23","s":"V","v":4750000},{"d":"2023-08-24","s":"V","v":4650000},{"d":"2023-08-25","s":"V","v":4600000},{"d":"2023-08-26","s":"V","v":4530000},{"d":"2023-08-27","s":"V","v":4450000},{"d":"2023-08-28","s":"V","v":4350000},{"d":"2023-08-29","s":"V","v":4250000},{"d":"2023-08-30","s":"V","v":4180000},{"d":"2023-08-31","s":"V","v":4080000},
{"d":"2023-09-01","s":"V","v":3980000},{"d":"2023-09-02","s":"V","v":3880000},{"d":"2023-09-03","s":"V","v":3800000},{"d":"2023-09-04","s":"V","v":3720000},{"d":"2023-09-05","s":"V","v":3640000},{"d":"2023-09-06","s":"V","v":3560000},{"d":"2023-09-07","s":"V","v":3480000},{"d":"2023-09-08","s":"V","v":3400000},{"d":"2023-09-09","s":"V","v":3330000},{"d":"2023-09-10","s":"V","v":3270000},{"d":"2023-09-11","s":"V","v":3200000},{"d":"2023-09-12","s":"V","v":3150000},{"d":"2023-09-13","s":"V","v":3100000},{"d":"2023-09-14","s":"V","v":3060000},{"d":"2023-09-15","s":"V","v":3030000},{"d":"2023-09-16","s":"V","v":2970000},{"d":"2023-09-17","s":"V","v":2900000},{"d":"2023-09-18","s":"V","v":2850000},{"d":"2023-09-19","s":"V","v":2800000},{"d":"2023-09-20","s":"V","v":2750000},{"d":"2023-09-21","s":"V","v":2700000},{"d":"2023-09-22","s":"V","v":2660000},{"d":"2023-09-23","s":"V","v":2620000},{"d":"2023-09-24","s":"V","v":2600000},{"d":"2023-09-25","s":"V","v":2520000},{"d":"2023-09-26","s":"V","v":2520000},{"d":"2023-09-27","s":"V","v":2530000},{"d":"2023-09-28","s":"V","v":2530000},{"d":"2023-09-29","s":"V","v":2530000},{"d":"2023-09-30","s":"V","v":2530000},
{"d":"2023-10-01","s":"V","v":2520000},{"d":"2023-10-02","s":"V","v":2520000},{"d":"2023-10-03","s":"V","v":2500000},{"d":"2023-10-04","s":"V","v":2490000},{"d":"2023-10-05","s":"V","v":2490000},{"d":"2023-10-06","s":"V","v":2480000},{"d":"2023-10-07","s":"V","v":2420000},{"d":"2023-10-08","s":"V","v":2380000},{"d":"2023-10-09","s":"V","v":2330000},{"d":"2023-10-10","s":"V","v":2310000},{"d":"2023-10-11","s":"V","v":2300000},{"d":"2023-10-12","s":"V","v":2300000},{"d":"2023-10-13","s":"V","v":2320000},{"d":"2023-10-14","s":"V","v":2320000},{"d":"2023-10-15","s":"V","v":2350000},{"d":"2023-10-16","s":"V","v":2370000},{"d":"2023-10-17","s":"V","v":2450000},{"d":"2023-10-18","s":"V","v":2580000},{"d":"2023-10-19","s":"V","v":2820000},{"d":"2023-10-20","s":"V","v":2920000}
]},
"encoding": {
  "x": {"field": "d", "type": "temporal",
    "scale": {"type": "utc", "domain": [{"year": 2023, "month": 5, "date": 31, "hours": 12, "utc": true}, {"year": 2023, "month": 10, "date": 31, "hours": 12, "utc": true}]},
    "axis": {"title": null, "labelExpr": "utcFormat(datum.value, '%-m/%-d/%Y')",
      "values": [{"year":2023,"month":6,"date":1,"utc":true},{"year":2023,"month":6,"date":6,"utc":true},{"year":2023,"month":6,"date":11,"utc":true},{"year":2023,"month":6,"date":16,"utc":true},{"year":2023,"month":6,"date":21,"utc":true},{"year":2023,"month":6,"date":26,"utc":true},{"year":2023,"month":7,"date":1,"utc":true},{"year":2023,"month":7,"date":6,"utc":true},{"year":2023,"month":7,"date":11,"utc":true},{"year":2023,"month":7,"date":16,"utc":true},{"year":2023,"month":7,"date":21,"utc":true},{"year":2023,"month":7,"date":26,"utc":true},{"year":2023,"month":7,"date":31,"utc":true},{"year":2023,"month":8,"date":5,"utc":true},{"year":2023,"month":8,"date":10,"utc":true},{"year":2023,"month":8,"date":15,"utc":true},{"year":2023,"month":8,"date":20,"utc":true},{"year":2023,"month":8,"date":25,"utc":true},{"year":2023,"month":8,"date":30,"utc":true},{"year":2023,"month":9,"date":4,"utc":true},{"year":2023,"month":9,"date":9,"utc":true},{"year":2023,"month":9,"date":14,"utc":true},{"year":2023,"month":9,"date":19,"utc":true},{"year":2023,"month":9,"date":24,"utc":true},{"year":2023,"month":9,"date":29,"utc":true},{"year":2023,"month":10,"date":4,"utc":true},{"year":2023,"month":10,"date":9,"utc":true},{"year":2023,"month":10,"date":14,"utc":true},{"year":2023,"month":10,"date":19,"utc":true},{"year":2023,"month":10,"date":24,"utc":true},{"year":2023,"month":10,"date":29,"utc":true}],
      "labelAngle": -45, "labelAlign": "right", "labelBaseline": "top", "labelPadding": 18,
      "labelFont": "Lato", "labelFontSize": 23, "labelColor": "#595959",
      "grid": false, "domain": false, "ticks": false, "labelOverlap": false, "labelFlush": false, "labelBound": false}},
  "color": {"field": "s", "type": "nominal",
    "scale": {"domain": ["H","B","R","W","J","S","V"], "range": ["#4472C4","#ED7D31","#A5A5A5","#FFC000","#000000","#8FAADC","#00B050"]},
    "legend": {"title": null, "orient": "none", "legendX": 65, "legendY": -107.5, "direction": "horizontal", "columns": 4, "gridAlign": "all", "columnPadding": -3.7, "rowPadding": 3.8, "padding": 0,
      "symbolType": "M-1,0H3", "symbolSize": 812, "labelOffset": 32.5, "labelFont": "Lato", "labelFontSize": 21.5, "labelColor": "#595959", "labelLimit": 1000,
      "labelExpr": "datum.label == 'H' ? 'Hydrometric Gauge (m3/s)' : datum.label == 'B' ? 'Englishman River Baseflow (m3/s)' : datum.label == 'R' ? 'Dam Release Rate (m3/s)' : datum.label == 'W' ? 'ERWS Intake Withdrawl Rate (m3/s)' : datum.label == 'J' ? 'June POR 1.0m3/s' : datum.label == 'S' ? 'September POR 0.7m3/s' : 'Dam Volume (m3)'"}},
  "strokeWidth": {"field": "s", "type": "nominal",
    "scale": {"type": "ordinal", "domain": ["H","B","R","W","J","S","V"], "range": [11,5,4.5,5,3,4,5]},
    "legend": {"title": null, "orient": "none", "legendX": 65, "legendY": -107.5, "direction": "horizontal", "columns": 4, "gridAlign": "all", "columnPadding": -3.7, "rowPadding": 3.8, "padding": 0,
      "symbolType": "M-1,0H3", "symbolSize": 812, "labelOffset": 32.5, "labelFont": "Lato", "labelFontSize": 21.5, "labelColor": "#595959", "labelLimit": 1000,
      "labelExpr": "datum.label == 'H' ? 'Hydrometric Gauge (m3/s)' : datum.label == 'B' ? 'Englishman River Baseflow (m3/s)' : datum.label == 'R' ? 'Dam Release Rate (m3/s)' : datum.label == 'W' ? 'ERWS Intake Withdrawl Rate (m3/s)' : datum.label == 'J' ? 'June POR 1.0m3/s' : datum.label == 'S' ? 'September POR 0.7m3/s' : 'Dam Volume (m3)'"}}
},
"layer": [
  {"encoding": {"y": {"field": "v", "type": "quantitative", "scale": {"domain": [0, 5], "nice": false, "zero": true},
      "axis": {"title": "Flow Rate (m3/s)", "values": [0,0.1,0.2,0.3,0.4,0.5,0.6,0.7,0.8,0.9,1,1.1,1.2,1.3,1.4,1.5,1.6,1.7,1.8,1.9,2,2.1,2.2,2.3,2.4,2.5,2.6,2.7,2.8,2.9,3,3.1,3.2,3.3,3.4,3.5,3.6,3.7,3.8,3.9,4,4.1,4.2,4.3,4.4,4.5,4.6,4.7,4.8,4.9,5],
        "labelExpr": "abs(datum.value*2 - round(datum.value*2)) < 0.001 ? format(datum.value, '.2f') : ''",
        "grid": true, "gridWidth": 1.5,
        "gridColor": {"condition": {"test": "abs(datum.value*2 - round(datum.value*2)) < 0.001", "value": "#D9D9D9"}, "value": "#F0F0F0"},
        "domain": false, "ticks": false, "labelPadding": 20, "labelOverlap": false, "labelBound": false,
        "labelFont": "Lato", "labelFontSize": 23.5, "labelColor": "#595959",
        "titleFont": "Lato", "titleFontSize": 25, "titleFontWeight": "normal", "titleColor": "#595959",
        "titleAngle": 270, "titleX": -122, "titleY": 258, "titleAlign": "center", "titleBaseline": "middle"}}},
   "layer": [
    {"transform": [{"filter": "datum.s === 'H'"}], "mark": {"type": "line", "clip": true, "strokeJoin": "round", "strokeCap": "round"}, "encoding": {}},
    {"transform": [{"filter": "datum.s === 'B'"}], "mark": {"type": "line", "clip": true, "strokeJoin": "round", "strokeCap": "round"}, "encoding": {}},
    {"transform": [{"filter": "datum.s === 'R'"}], "mark": {"type": "line", "clip": true, "strokeJoin": "round", "strokeCap": "round"}, "encoding": {}},
    {"transform": [{"filter": "datum.s === 'W'"}], "mark": {"type": "line", "clip": true, "strokeJoin": "round", "strokeCap": "round"}, "encoding": {}},
    {"transform": [{"filter": "datum.s === 'J'"}], "mark": {"type": "line", "clip": true, "strokeJoin": "round", "strokeCap": "butt"}, "encoding": {}},
    {"transform": [{"filter": "datum.s === 'S'"}], "mark": {"type": "line", "clip": true, "strokeJoin": "round", "strokeCap": "butt"}, "encoding": {}}
   ]},
  {"transform": [{"filter": "datum.s === 'V'"}], "mark": {"type": "line", "clip": true, "strokeJoin": "round", "strokeCap": "round"},
   "encoding": {"y": {"field": "v", "type": "quantitative", "scale": {"domain": [0, 9000000], "nice": false, "zero": true},
      "axis": {"orient": "right", "title": "Dam volume (m3)", "values": [0,1000000,2000000,3000000,4000000,5000000,6000000,7000000,8000000,9000000], "format": ",d",
        "grid": false, "domain": false, "ticks": false, "labelPadding": 15, "labelOverlap": false, "labelBound": false,
        "labelFont": "Lato", "labelFontSize": 23.5, "labelColor": "#595959",
        "titleFont": "Lato", "titleFontSize": 25, "titleFontWeight": "normal", "titleColor": "#595959",
        "titleAngle": 270, "titleX": 147, "titleY": 258, "titleAlign": "center", "titleBaseline": "middle"}}}}
],
"resolve": {"scale": {"y": "independent"}}
}
